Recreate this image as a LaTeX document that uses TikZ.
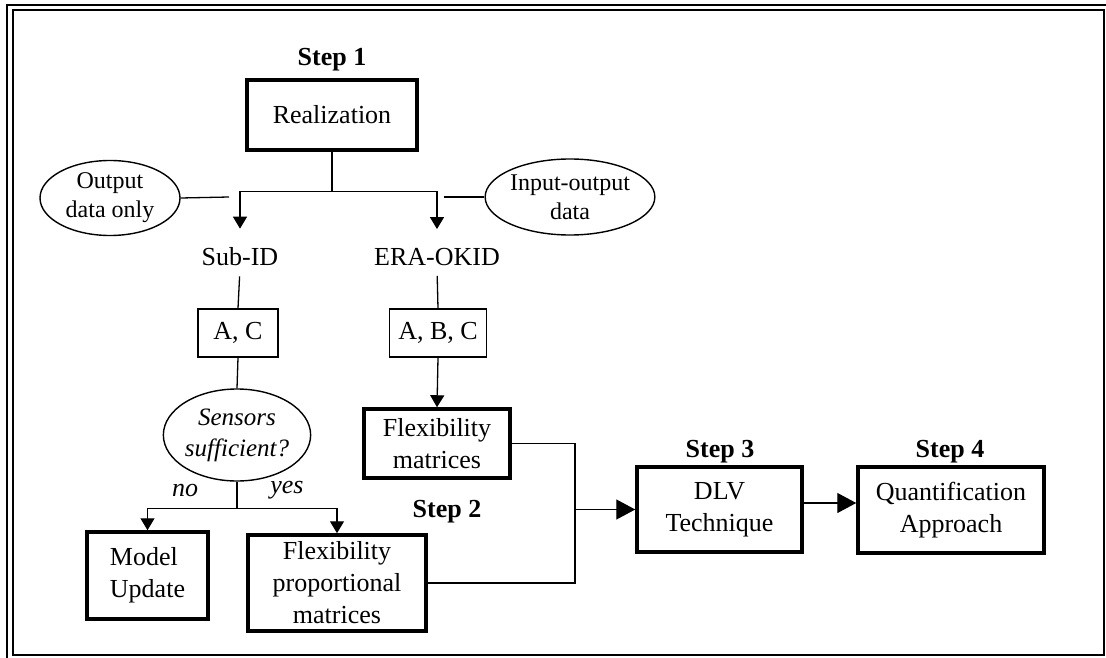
\documentclass[tikz,border=0pt]{standalone}
\usepackage{fontspec}
\setmainfont{Liberation Serif}
\usetikzlibrary{shapes.geometric,arrows.meta}

\tikzset{
  txt/.style={font=\fontsize{26}{32}\selectfont, align=center},
  plain/.style={txt, inner sep=2pt},
  thinbox/.style={txt, draw, line width=1.4pt, inner sep=0pt},
  boldbox/.style={txt, draw, line width=3.5pt, inner sep=0pt},
  oval/.style={draw, ellipse, line width=1.4pt, inner sep=0pt, align=center,
    font=\fontsize{24}{29}\selectfont},
  steplabel/.style={plain, font=\fontsize{26}{31}\selectfont\bfseries},
  link/.style={line width=1.3pt},
  arrowlink/.style={link, -{Triangle[width=14pt,length=12pt]}},
  bigarrow/.style={link, -{Triangle[width=20pt,length=19pt]}},
}

\begin{document}
\begin{tikzpicture}[x=1pt,y=-1pt]
% page size, same as the figure
\useasboundingbox (0,0) rectangle (1106,658);

% double frame round the figure
\draw[line width=2pt] (7,658) -- (7,5) -- (1106,5);
\draw[line width=1.6pt] (13,10) rectangle (1104,655);

% Step 1: realization
\node[steplabel] (s1) at (332,60) {Step 1};
\node[boldbox, minimum width=170, minimum height=70] (real) at (332,115) {Realization};

% the two kinds of data
\node[oval, minimum width=140, minimum height=75] (outdata) at (110,198) {Output\\data only};
\node[oval, minimum width=156, minimum height=76] (iodata) at (570,197) {Input-output\\data};

% the two methods
\node[plain] (subid) at (240,257) {Sub-ID};
\node[plain] (eraokid) at (437,257) {ERA-OKID};

% split below the realization box
\draw[link] (real.south) -- ++(0,40) coordinate (split);
\draw[arrowlink, shorten >=17pt] (split) -| (subid.north);
\draw[arrowlink, shorten >=17pt] (split) -| (eraokid.north);

% data ovals point at the branches
\coordinate (odend) at (229,197);
\coordinate (ioend) at (444,197);
\draw[link] (outdata.east) -- (odend);
\draw[link] (ioend) -- (iodata.west);

% state matrices
\node[thinbox, minimum width=80, minimum height=48] (ac) at (238,333) {A, C};
\node[thinbox, minimum width=97, minimum height=48] (abc) at (438,333) {A, B, C};
\draw[link, shorten <=8pt] (subid.south) -- (ac.north);
\draw[link, shorten <=8pt] (eraokid.south) -- (abc.north);

% enough sensors?
\node[oval, minimum width=145, minimum height=92, font=\fontsize{25}{31}\selectfont\itshape] (sens) at (237,435) {Sensors\\sufficient?};
\draw[link] (ac.south) -- (sens.north);

% left branch results
\node[boldbox, minimum width=121, minimum height=87, align=left] (model) at (147.5,575.5) {Model\\Update};
\node[boldbox, minimum width=178, minimum height=96] (fpm) at (337,583) {Flexibility\\proportional\\matrices};
\draw[link] (sens.south) -- ++(0,27) coordinate (fork);
\draw[arrowlink] (fork) -| (model.north);
\draw[arrowlink] (fork) -| (fpm.north);
\node[plain, font=\fontsize{26}{31}\selectfont\itshape] (no) at (185,490) {no};
\node[plain, font=\fontsize{26}{31}\selectfont\itshape] (yes) at (287,490) {yes};

% right branch result
\node[boldbox, minimum width=146, minimum height=69] (flexm) at (437,443.5) {Flexibility\\matrices};
\draw[arrowlink] (abc.south) -- (flexm.north);
\node[steplabel] (s2) at (447,512) {Step 2};

% Step 3 and Step 4
\node[boldbox, minimum width=165, minimum height=85] (dlv) at (719.5,509.5) {DLV\\Technique};
\node[steplabel] (s3) at (720,452) {Step 3};
\node[boldbox, minimum width=186, minimum height=86] (quant) at (951,510) {Quantification\\Approach};
\node[steplabel] (s4) at (950,452) {Step 4};

% both flexibilities go to the DLV box
\coordinate (join) at (575,509.5);
\draw[link] (flexm.east) -| (join);
\draw[link] (fpm.east) -| (join);
\draw[bigarrow] (join) -- (dlv.west);
\draw[bigarrow] ([yshift=6.5pt]dlv.east) -- ([yshift=7pt]quant.west);

\end{tikzpicture}
\end{document}
